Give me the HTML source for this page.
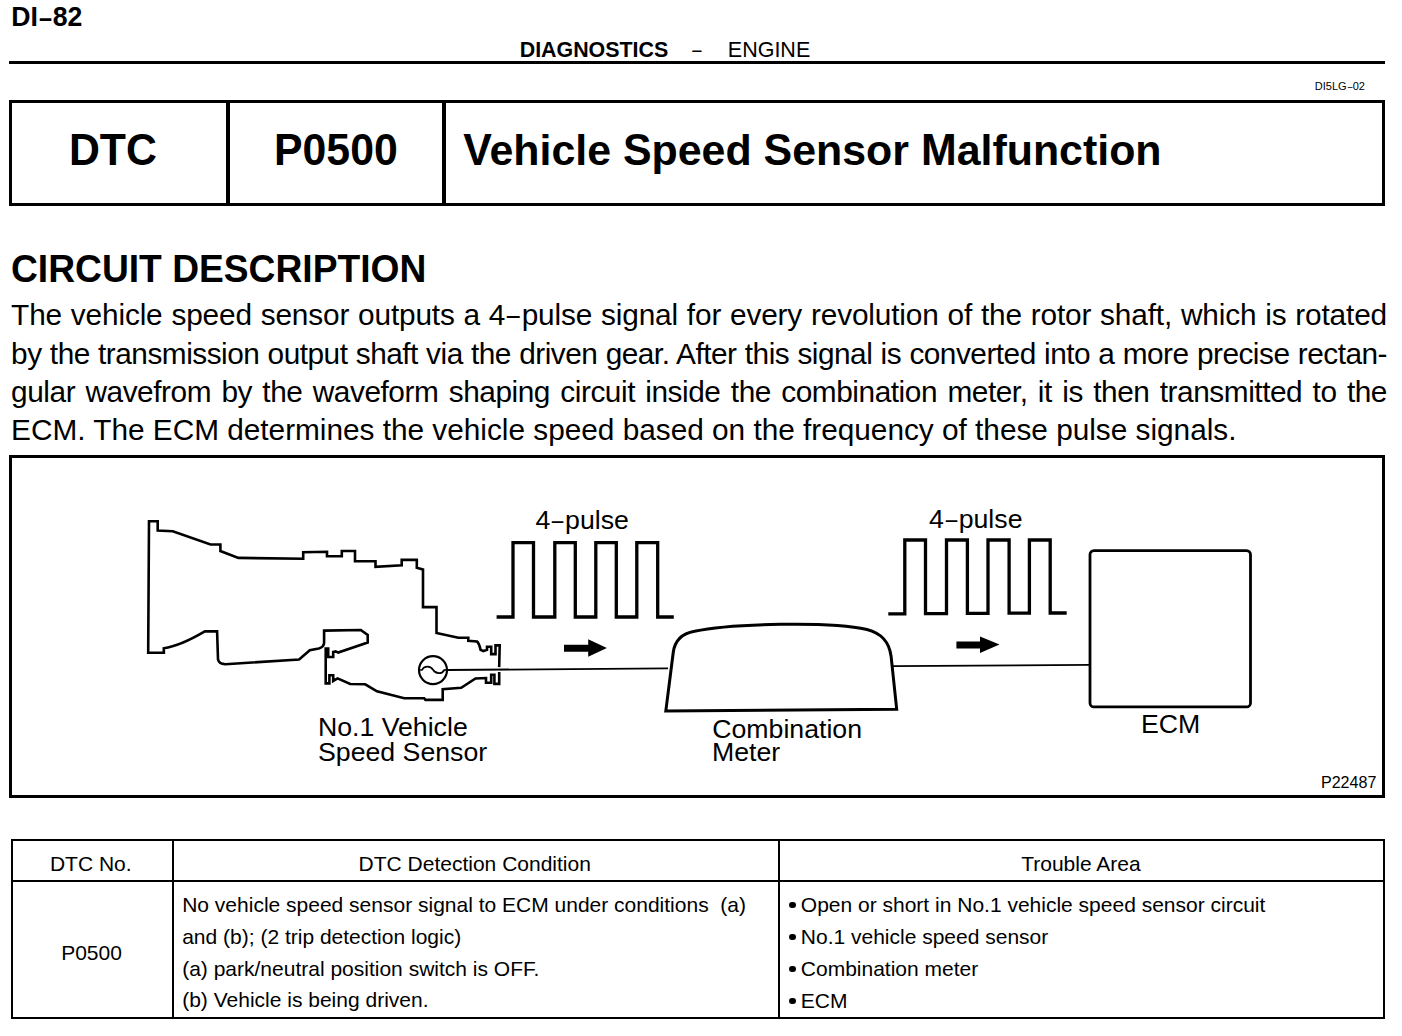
<!DOCTYPE html>
<html>
<head>
<meta charset="utf-8">
<style>
html,body{margin:0;padding:0;background:#fff;}
body{width:1402px;height:1036px;position:relative;overflow:hidden;font-family:"Liberation Sans",sans-serif;color:#000;}
.t{position:absolute;line-height:1;white-space:pre;}
.b{font-weight:bold;}
.sy{transform-origin:0 0.846em;}
.cap{display:inline-block;transform:scaleY(1.045);transform-origin:0 0.846em;}
.hr{position:absolute;background:#000;}
.box{position:absolute;box-sizing:border-box;border:3px solid #000;}
.para{position:absolute;left:11.1px;width:1375.9px;font-size:29.8px;line-height:1;text-align:justify;text-align-last:justify;white-space:nowrap;}
.para .l{position:absolute;left:0;width:100%;display:block;text-align:justify;text-align-last:justify;white-space:nowrap;}
svg{position:absolute;left:0;top:0;}
.d{display:inline-block;transform:scaleX(.78);}
.db{display:inline-block;transform:scaleX(.88);}
.dot{position:absolute;left:789.3px;width:6.5px;height:6.5px;border-radius:50%;background:#000;}
</style>
</head>
<body>
<!-- page header -->
<div class="t b sy" style="left:11.2px;top:4px;font-size:26.65px;transform:scaleY(1.03);">DI<span class="db" style="position:relative;top:0.8px;">–</span>82</div>
<div class="t b" style="left:519.7px;top:39.6px;font-size:21.4px;">DIAGNOSTICS</div>
<div class="t" style="left:691.3px;top:39.6px;font-size:21.4px;"><span class="d">–</span></div>
<div class="t" style="left:727.8px;top:39.5px;font-size:21.5px;">ENGINE</div>
<div class="hr" style="left:9px;top:61px;width:1376px;height:3px;"></div>
<div class="t" style="left:1314.8px;top:80.7px;font-size:11px;">DI5LG<span class="d">–</span>02</div>

<!-- DTC title box -->
<div class="box" style="left:9px;top:100px;width:1376px;height:105.5px;border-left-width:3.8px;"></div>
<div class="hr" style="left:226px;top:100px;width:4px;height:105px;"></div>
<div class="hr" style="left:442px;top:100px;width:4px;height:105px;"></div>
<div class="t b sy" style="left:68.9px;top:128.7px;font-size:42.8px;transform:scaleY(1.042);">DTC</div>
<div class="t b sy" style="left:274px;top:128.7px;font-size:42.8px;transform:scaleY(1.042);">P0500</div>
<div class="t b" style="left:463.2px;top:128.7px;font-size:42.9px;"><span class="cap" style="margin-right:-2.36px">V</span>ehicle <span class="cap">S</span>peed <span class="cap">S</span>ensor <span class="cap">M</span>alfunction</div>

<!-- circuit description -->
<div class="t b sy" style="left:11px;top:251.3px;font-size:37.2px;transform:scaleY(1.042);">CIRCUIT DESCRIPTION</div>
<div class="para" style="top:0;">
<span class="l" style="top:299.8px;letter-spacing:-0.15px;">The vehicle speed sensor outputs a 4<span class="d">–</span>pulse signal for every revolution of the rotor shaft, which is rotated</span>
<span class="l" style="top:338.5px;letter-spacing:-0.5px;">by the transmission output shaft via the driven gear. After this signal is converted into a more precise rectan-</span>
<span class="l" style="top:376.8px;letter-spacing:-0.45px;">gular wavefrom by the waveform shaping circuit inside the combination meter, it is then transmitted to the</span>
<span class="l" style="top:414.8px;text-align-last:left;letter-spacing:-0.016px;">ECM. The ECM determines the vehicle speed based on the frequency of these pulse signals.</span>
</div>

<!-- diagram frame -->
<div class="box" style="left:9px;top:454.5px;width:1376px;height:343.2px;border-left-width:3.8px;"></div>

<svg width="1402" height="1036" viewBox="0 0 1402 1036" fill="none" stroke="#000" stroke-linejoin="miter" stroke-linecap="square">
  <!-- transmission -->
  <path stroke-width="2.6" d="M163.8 652.7 L148.2 652.7 L149 521.2 L157.7 521.2 L157.7 530.5 L172.8 531.3 L210.5 544.5 L220.4 544.5 L220.4 551 L238.4 557.9 L303.2 558.7 L303.2 552.3 L327 551.8 L327 556.3 L341.8 556.3 L341.8 551 L355 551 L355 561.2 L375.5 561.2 L375.5 566.9 L401.7 565.3 L401.7 559.9 L416.8 559.9 L416.8 567.7 L423 569.4 L423 607.1 L436.5 607.1 L436.5 633 L458.4 637.8 L468.3 637.8 L468.3 640.7 L476.9 641.4 Q479 643 480.6 649.9 L483.3 651 L487 649.9 L487 646.7 L491.2 646.7 L491.2 654.1 L495.5 654.1 L495.5 645.4 L499.7 645.4 L499.2 665.8"/>
  <path stroke-width="2.6" d="M163.8 652.7 L163.8 648.3 Q180 646 204.8 631.4 L217.1 631.4 L218 659.3 Q219 664.2 225.3 664.2 L299.1 659.6 L309.8 650.3 L318.8 648.6 Q324.1 647 324.1 642.6 L324.1 630.6 L360.8 630 L367.7 635 L367.7 642.6 L338.2 652.6 L335.7 651.4 L333.2 652 L333.2 657 L328.2 657 L328.2 648.5 L325.7 648.5 L325.7 683.4 L329.4 683.4 L329.4 675.2 L333.2 675.2 L333.2 680.9 L337.6 678.4 L350.2 684 L365.2 684.3 L377 691.3 L404.2 698.2 L424.1 698.2 L425.5 699.9 L442.7 699.9 L442.7 689.2 L461.2 687.8 L475.5 678.5 L486 678 L486 682.8 L491.2 682.8 L491.2 674.8 L494.4 674.8 L494.4 683.9 L499.2 683.9 L499.2 673.2"/>
  <!-- sensor -->
  <circle cx="433" cy="670.1" r="14" stroke-width="2.2"/>
  <path stroke-width="1.7" stroke-linecap="butt" d="M419.6 670 L422 670 C424 665.8 430.5 665.5 433 669.8 C435.5 674 442 674.5 444.3 670 L447 669.8"/>
  <!-- wires -->
  <path stroke-width="1.8" stroke-linecap="butt" d="M447.2 670 L668 668.3"/>
  <path stroke-width="1.8" stroke-linecap="butt" d="M893 666.2 L1090 664.8"/>
  <!-- pulses -->
  <path stroke-width="3.3" stroke-linecap="butt" d="M496.6 617 L513 617 L513 542.7 L533.5 542.7 L533.5 617 L554.8 617 L554.8 542.7 L575.3 542.7 L575.3 617 L595.8 617 L595.8 542.7 L616.3 542.7 L616.3 617 L636.8 617 L636.8 542.7 L657.7 542.7 L657.7 617 L673.8 617"/>
  <path stroke-width="3.3" stroke-linecap="butt" d="M888.3 613.8 L904.8 613.8 L904.8 540 L925.5 540 L925.5 613.6 L946.5 613.6 L946.5 540 L967.4 540 L967.4 613.4 L988 613.4 L988 540 L1009.1 540 L1009.1 613.2 L1029.4 613.2 L1029.4 540 L1050.2 540 L1050.2 613 L1066.7 613"/>
  <!-- arrows -->
  <path stroke="none" fill="#000" d="M564 644.8 L588.2 644.8 L588.2 639.3 L606.9 647.9 L588.2 656.7 L588.2 651.7 L564 651.7 Z"/>
  <path stroke="none" fill="#000" d="M956.4 641.6 L980 641.6 L980 636.4 L999.5 644.6 L980 652.9 L980 648.5 L956.4 648.5 Z"/>
  <!-- combination meter -->
  <path stroke-width="3" d="M665.8 711.1 L673.2 652.7 C675 638 685 633 694.5 631.3 C730 623.5 830 621 867 629.5 C880 633 889 640 891.1 656.4 L896.7 709.2 Z"/>
  <!-- ECM -->
  <rect x="1090" y="550.6" width="160.5" height="156.3" rx="4" stroke-width="2.8"/>
</svg>

<!-- diagram labels -->
<div class="t" style="left:535.4px;top:506.6px;font-size:26.7px;">4<span class="d">–</span>pulse</div>
<div class="t" style="left:929px;top:506.3px;font-size:26.7px;">4<span class="d">–</span>pulse</div>
<div class="t" style="left:317.9px;top:713.9px;font-size:26.7px;">No.1 Vehicle</div>
<div class="t" style="left:318px;top:738.9px;font-size:26.7px;">Speed Sensor</div>
<div class="t" style="left:712.2px;top:715.9px;font-size:26.7px;">Combination</div>
<div class="t" style="left:712px;top:739px;font-size:26.7px;">Meter</div>
<div class="t" style="left:1141px;top:711.2px;font-size:26.7px;">ECM</div>
<div class="t" style="left:1320.9px;top:774.3px;font-size:16.1px;">P22487</div>

<!-- DTC table -->
<div class="hr" style="left:11px;top:839px;width:1374.2px;height:2px;"></div>
<div class="hr" style="left:11px;top:880px;width:1374.2px;height:2px;"></div>
<div class="hr" style="left:11px;top:1016.5px;width:1374.2px;height:2px;"></div>
<div class="hr" style="left:11px;top:839px;width:2px;height:179.5px;"></div>
<div class="hr" style="left:172px;top:839px;width:2px;height:179.5px;"></div>
<div class="hr" style="left:778px;top:839px;width:2px;height:179.5px;"></div>
<div class="hr" style="left:1383.2px;top:839px;width:2px;height:179.5px;"></div>

<div class="t" style="left:49.9px;top:853px;font-size:21px;">DTC No.</div>
<div class="t" style="left:358.6px;top:852.6px;font-size:21px;">DTC Detection Condition</div>
<div class="t" style="left:1021.2px;top:852.6px;font-size:21px;">Trouble Area</div>
<div class="t" style="left:61.2px;top:941.9px;font-size:21px;">P0500</div>

<div class="t" style="left:182.2px;top:893.9px;font-size:21px;">No vehicle speed sensor signal to ECM under conditions  (a)</div>
<div class="t" style="left:182.2px;top:925.6px;font-size:21px;">and (b); (2 trip detection logic)</div>
<div class="t" style="left:182.2px;top:957.5px;font-size:21px;">(a) park/neutral position switch is OFF.</div>
<div class="t" style="left:182.2px;top:989.2px;font-size:21px;">(b) Vehicle is being driven.</div>

<div class="dot" style="top:901.75px;"></div>
<div class="dot" style="top:933.85px;"></div>
<div class="dot" style="top:965.95px;"></div>
<div class="dot" style="top:997.65px;"></div>
<div class="t" style="left:800.8px;top:893.9px;font-size:21px;">Open or short in No.1 vehicle speed sensor circuit</div>
<div class="t" style="left:800.8px;top:925.8px;font-size:21px;">No.1 vehicle speed sensor</div>
<div class="t" style="left:800.8px;top:957.7px;font-size:21px;">Combination meter</div>
<div class="t" style="left:800.8px;top:989.6px;font-size:21px;">ECM</div>
</body>
</html>
